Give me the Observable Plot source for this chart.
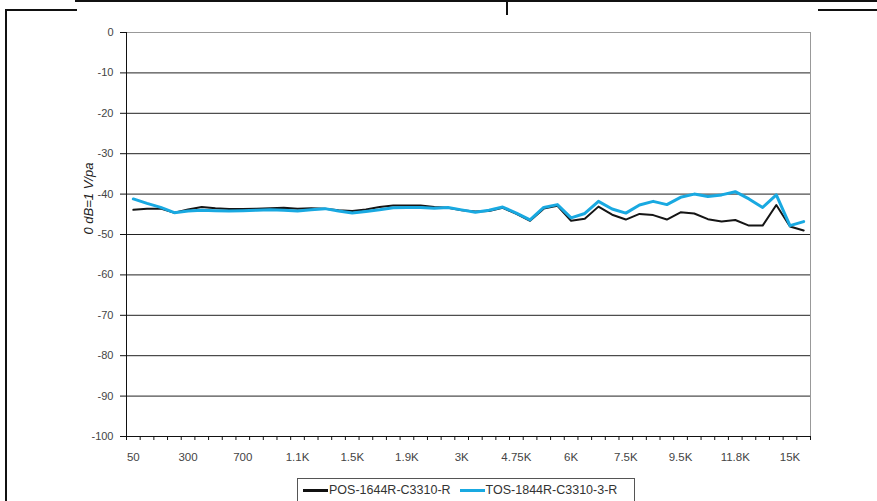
<!DOCTYPE html>
<html>
<head>
<meta charset="utf-8">
<script src="https://cdn.jsdelivr.net/npm/d3@7"></script>
<script src="https://cdn.jsdelivr.net/npm/@observablehq/plot@0.6"></script>
<style>
  html, body { margin: 0; padding: 0; background: #fff; }
  body { width: 877px; height: 501px; position: relative; overflow: hidden; font-family: "Liberation Sans", Arial, sans-serif; }
  #chart { position: absolute; left: 0; top: 0; }
  .line { position: absolute; background: #111; }
  #legend { position: absolute; left: 297px; top: 478px; width: 338px; height: 30px; border: 1px solid #555; background: #fff;
            font-size: 12.5px; color: #333; display: flex; align-items: flex-start; padding-top: 4px; box-sizing: border-box; }
  #legend .item { display: flex; align-items: center; white-space: nowrap; }
  #legend .sw { display: inline-block; width: 25px; margin-right: 1px; }
</style>
</head>
<body>
<div class="line" style="left:5px; top:9px; width:2px; height:492px;"></div>
<div class="line" style="left:5px; top:9px; width:72px; height:2px;"></div>
<div class="line" style="left:818px; top:9px; width:59px; height:2px;"></div>
<div class="line" style="left:75px; top:0px; width:802px; height:2px;"></div>
<div class="line" style="left:506px; top:0px; width:2px; height:15px;"></div>
<div id="chart"></div>
<div id="legend">
  <span class="item" style="margin-left:5px"><span class="sw" style="border-top:3px solid #111"></span>POS-1644R-C3310-R</span>
  <span class="item" style="margin-left:9px"><span class="sw" style="border-top:3px solid #19a9e1"></span>TOS-1844R-C3310-3-R</span>
</div>
<script>
const categories = ["50","100","200","250","300","400","500","600","700","800","900","1K","1.1K","1.2K","1.3K","1.4K","1.5K","1.6K","1.7K","1.8K","1.9K","2K","2.25K","2.5K","3K","3.5K","4K","4.5K","4.75K","5K","5.3K","5.6K","6K","6.3K","6.7K","7.1K","7.5K","8K","8.5K","9K","9.5K","10K","10.6K","11.2K","11.8K","12.5K","13.2K","14K","15K","16K"];
const posValues = [-43.9,-43.6,-43.6,-44.6,-43.8,-43.2,-43.5,-43.7,-43.7,-43.6,-43.5,-43.4,-43.6,-43.5,-43.6,-44.0,-44.2,-43.8,-43.2,-42.8,-42.8,-42.8,-43.2,-43.4,-44.0,-44.3,-44.2,-43.4,-44.9,-46.6,-43.6,-42.9,-46.6,-46.1,-43.1,-45.1,-46.3,-44.9,-45.2,-46.3,-44.5,-44.8,-46.2,-46.8,-46.4,-47.8,-47.8,-42.7,-48.0,-49.0];
const tosValues = [-41.2,-42.3,-43.3,-44.6,-44.2,-44.0,-44.1,-44.2,-44.1,-44.0,-43.9,-44.0,-44.2,-43.9,-43.6,-44.2,-44.7,-44.3,-43.9,-43.4,-43.3,-43.3,-43.5,-43.3,-43.9,-44.5,-44.0,-43.2,-44.7,-46.4,-43.3,-42.6,-45.9,-44.8,-41.8,-43.7,-44.7,-42.7,-41.8,-42.6,-40.8,-40.0,-40.6,-40.2,-39.4,-41.2,-43.3,-40.2,-47.8,-46.8];
const seriesNames = ["POS-1644R-C3310-R", "TOS-1844R-C3310-3-R"];
const yTicks = [0,-10,-20,-30,-40,-50,-60,-70,-80,-90,-100];
const yTitle = "0 dB=1 V/pa";

const pos = categories.map((c, i) => ({i, cat: c, v: posValues[i], s: seriesNames[0]}));
const tos = categories.map((c, i) => ({i, cat: c, v: tosValues[i], s: seriesNames[1]}));
const labelIdx = d3.range(0, categories.length, 4);
const boundaries = d3.range(-0.5, categories.length, 1);

const chart = Plot.plot({
  width: 877,
  height: 501,
  marginLeft: 126,
  marginRight: 67,
  marginTop: 32,
  marginBottom: 65,
  style: {fontFamily: "'Liberation Sans', Arial, sans-serif", background: "transparent"},
  x: {type: "linear", domain: [-0.5, categories.length - 0.5]},
  y: {domain: [-100, 0]},
  marks: [
    Plot.frame({stroke: "#999"}),
    Plot.ruleY(yTicks.filter(t => t > -100 && t < 0), {stroke: "#222", strokeWidth: 1}),
    Plot.ruleY([-100], {stroke: "#111", strokeWidth: 1}),
    Plot.ruleX([-0.5], {stroke: "#111", strokeWidth: 1}),
    Plot.line(pos, {x: "i", y: "v", stroke: "#151515", strokeWidth: 2}),
    Plot.line(tos, {x: "i", y: "v", stroke: "#19a9e1", strokeWidth: 3}),
    Plot.axisY({ticks: yTicks, tickSize: 6, tickPadding: 7, tickFormat: d => String(d), fontSize: 11, color: "#444", stroke: "#111", label: null}),
    Plot.axisX({ticks: boundaries, tickSize: 4, tickFormat: () => "", stroke: "#111", label: null}),
    Plot.axisX({ticks: labelIdx, tickSize: 0, tickPadding: 16, tickFormat: i => categories[i], fontSize: 11.5, color: "#444", label: null}),
    Plot.text([yTitle], {frameAnchor: "left", text: d => d, rotate: -90, dx: -38, fontSize: 13, fontStyle: "italic", fill: "#222"})
  ]
});
document.getElementById("chart").appendChild(chart);
</script>
</body>
</html>
